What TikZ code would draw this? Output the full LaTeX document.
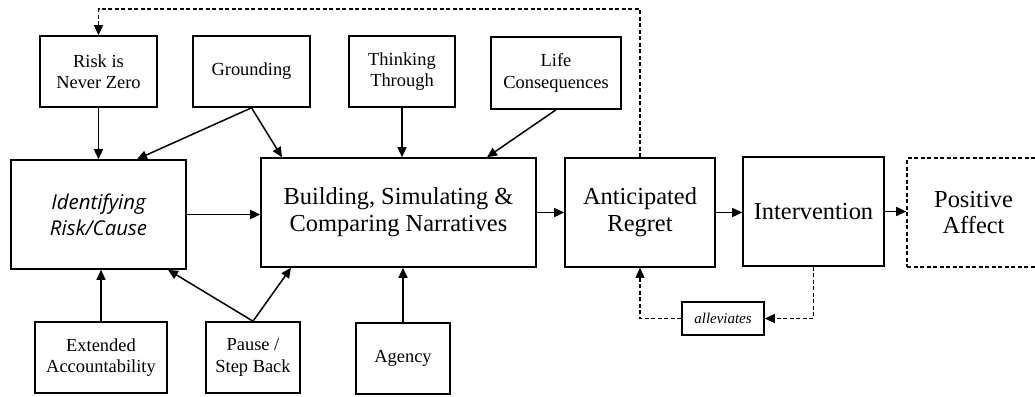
\documentclass[tikz,border=0pt]{standalone}
\usepackage{fontspec}
\setmainfont{Liberation Serif}
\newfontfamily\idfont{Open Sans}
\usetikzlibrary{arrows.meta,calc}

\tikzset{
  box/.style={draw, line width=1.6bp, inner sep=0pt, align=center},
  small/.style={box, font=\fontsize{18.5}{21.5}\selectfont},
  big/.style={box, font=\fontsize{24.5}{27}\selectfont},
  link/.style={line width=1.5bp, -{Triangle[length=10bp,width=9bp]}},
  dashlink/.style={link, dash pattern=on 4bp off 2.5bp},
  dashbox/.style={big, dash pattern=on 4bp off 2.5bp}
}

\begin{document}
\begin{tikzpicture}[x=1bp, y=-1bp]
  \useasboundingbox (0,0) rectangle (1035,396);

  % top row of contributing factors
  \node[small, minimum width=117bp, minimum height=71bp] (risk)  at (98.5,71.5) {Risk is\\Never Zero};
  \node[small, minimum width=117bp, minimum height=71bp] (ground) at (251.5,71.5) {Grounding};
  \node[small, minimum width=106bp, minimum height=71bp] (think) at (402,71.5) {Thinking\\Through};
  \node[small, minimum width=130bp, minimum height=72bp] (life)  at (556,73) {Life\\Consequences};

  % main chain
  \node[box, minimum width=175bp, minimum height=109bp,
        font=\idfont\itshape\fontsize{20.5}{26}\selectfont] (ident) at (98.5,214.5) {Identifying\\Risk/Cause};
  \node[big, minimum width=275bp, minimum height=109bp] (build) at (398.5,212.5) {Building, Simulating \&\\Comparing Narratives};
  \node[big, minimum width=150bp, minimum height=109bp] (antic) at (640,212.5) {Anticipated\\Regret};
  \node[big, minimum width=141bp, minimum height=109bp] (interv) at (813.5,211.5) {Intervention};
  \node[dashbox, minimum width=133bp, minimum height=109bp, text width=125bp] (pos) at (973.5,212.5) {Positive\\Affect};

  % bottom row of contributing factors
  \node[small, minimum width=132bp, minimum height=71bp] (ext)    at (101,357.5) {Extended\\Accountability};
  \node[small, minimum width=94bp,  minimum height=71bp] (pause)  at (253,357.5) {Pause /\\Step Back};
  \node[small, minimum width=94bp,  minimum height=71bp] (agency) at (403,358.5) {Agency};

  \node[box, minimum width=82bp, minimum height=33bp,
        font=\itshape\fontsize{15}{18}\selectfont] (allev) at (723,318.5) {alleviates};

  % inputs from the top row
  \draw[link] (risk.south) -- (ident.north);
  \draw[link] (ground.south) -- ([xshift=38.5bp]ident.north);
  \draw[link] (ground.south) -- ([xshift=-116.5bp]build.north);
  \draw[link] (think.south) -- (think.south |- build.north);
  \draw[link] (life.south) -- ([xshift=88.5bp]build.north);

  % chain arrows
  \draw[link] (ident.east) -- (ident.east -| build.west);
  \draw[link] (build.east) -- (build.east -| antic.west);
  \draw[link] (antic.east) -- (antic.east -| interv.west);
  \draw[link] (interv.east) -- (interv.east -| pos.west);

  % inputs from the bottom row
  \draw[link] (ext.north) -- (ext.north |- ident.south);
  \draw[link] (pause.north) -- ([xshift=69.5bp]ident.south);
  \draw[link] (pause.north) -- ([xshift=-107.5bp]build.south);
  \draw[link] (agency.north) -- (agency.north |- build.south);

  % feedback loops
  \coordinate (loop) at (98.5,9);
  \draw[dashlink] (antic.north) |- (loop) -- (risk.north);
  \draw[dashlink] (interv.south) |- (allev.east);
  \draw[dashlink] (allev.west) -| (antic.south);
\end{tikzpicture}
\end{document}
